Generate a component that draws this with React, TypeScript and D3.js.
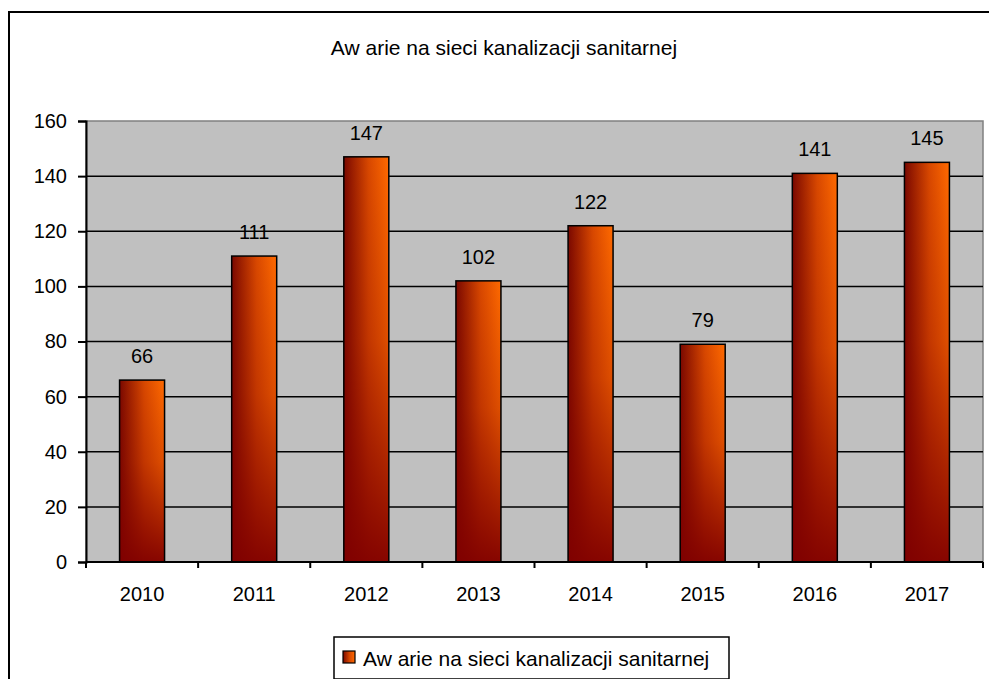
import { useEffect, useRef } from "react";
import * as d3 from "d3";

const years = ["2010", "2011", "2012", "2013", "2014", "2015", "2016", "2017"];
const failures = [66, 111, 147, 102, 122, 79, 141, 145];
const yTicks = [0, 20, 40, 60, 80, 100, 120, 140, 160];
const title = "Aw arie na sieci kanalizacji sanitarnej";
const legendLabel = "Aw arie na sieci kanalizacji sanitarnej";

export default function App() {
  const ref = useRef<SVGSVGElement>(null);

  useEffect(() => {
    document.body.style.margin = "0";
    if (!ref.current) return;
    const svg = d3.select(ref.current);
    svg.selectAll("*").remove();

    const width = 989;
    const height = 679;
    const left = 86;
    const right = 983;
    const top = 121;
    const bottom = 562;
    const font = "'Liberation Sans', Arial, sans-serif";

    const defs = svg.append("defs");
    const gh = defs.append("linearGradient").attr("id", "barH")
      .attr("x1", "0").attr("y1", "0").attr("x2", "1").attr("y2", "0");
    gh.append("stop").attr("offset", "0").attr("stop-color", "#7a0800");
    gh.append("stop").attr("offset", "0.55").attr("stop-color", "#d84800");
    gh.append("stop").attr("offset", "1").attr("stop-color", "#ff6a00");
    const gv = defs.append("linearGradient").attr("id", "barV")
      .attr("x1", "0").attr("y1", "0").attr("x2", "0").attr("y2", "1");
    gv.append("stop").attr("offset", "0").attr("stop-color", "#800000").attr("stop-opacity", 0);
    gv.append("stop").attr("offset", "0.45").attr("stop-color", "#800000").attr("stop-opacity", 0.25);
    gv.append("stop").attr("offset", "1").attr("stop-color", "#800000").attr("stop-opacity", 0.95);

    // outer frame
    svg.append("rect")
      .attr("x", 9).attr("y", 12).attr("width", width + 10).attr("height", height + 10)
      .attr("fill", "white").attr("stroke", "black").attr("stroke-width", 2);

    svg.append("text")
      .attr("x", 504).attr("y", 55)
      .attr("text-anchor", "middle")
      .attr("font-family", font).attr("font-size", 21)
      .text(title);

    const x = d3.scaleBand().domain(years).range([left, right]).paddingInner(0).paddingOuter(0);
    const y = d3.scaleLinear().domain([0, 160]).range([bottom, top]);
    const barW = 45;

    // plot area
    svg.append("rect")
      .attr("x", left).attr("y", top).attr("width", right - left).attr("height", bottom - top)
      .attr("fill", "#c0c0c0").attr("stroke", "#808080").attr("stroke-width", 1.5);

    // gridlines
    svg.append("g").selectAll("line")
      .data(yTicks.filter(t => t > 0 && t < 160))
      .join("line")
      .attr("x1", left).attr("x2", right)
      .attr("y1", d => y(d)).attr("y2", d => y(d))
      .attr("stroke", "black").attr("stroke-width", 1.5);

    // bars
    const bars = svg.append("g");
    const data = years.map((yr, i) => ({ yr, v: failures[i] }));
    bars.selectAll("rect.h")
      .data(data).join("rect").attr("class", "h")
      .attr("x", d => (x(d.yr) || 0) + x.bandwidth() / 2 - barW / 2)
      .attr("y", d => y(d.v))
      .attr("width", barW)
      .attr("height", d => y(0) - y(d.v))
      .attr("fill", "url(#barH)");
    bars.selectAll("rect.v")
      .data(data).join("rect").attr("class", "v")
      .attr("x", d => (x(d.yr) || 0) + x.bandwidth() / 2 - barW / 2)
      .attr("y", d => y(d.v))
      .attr("width", barW)
      .attr("height", d => y(0) - y(d.v))
      .attr("fill", "url(#barV)")
      .attr("stroke", "black").attr("stroke-width", 1.5);

    // value labels
    svg.append("g").selectAll("text")
      .data(data).join("text")
      .attr("x", d => (x(d.yr) || 0) + x.bandwidth() / 2)
      .attr("y", d => y(d.v) - 17)
      .attr("text-anchor", "middle")
      .attr("font-family", font).attr("font-size", 20)
      .text(d => d.v);

    // y axis
    const yAxis = svg.append("g")
      .attr("transform", `translate(${left},0)`)
      .call(d3.axisLeft(y).tickValues(yTicks).tickSize(8).tickPadding(11));
    yAxis.select(".domain").attr("stroke-width", 2);
    yAxis.selectAll("line").attr("stroke-width", 2);
    yAxis.selectAll("text").attr("font-family", font).attr("font-size", 20).attr("fill", "black");

    // x axis
    const xAxis = svg.append("g")
      .attr("transform", `translate(0,${bottom})`);
    xAxis.append("line")
      .attr("x1", left).attr("x2", right).attr("stroke", "black").attr("stroke-width", 2);
    xAxis.selectAll("line.tick")
      .data([...years.map(yr => x(yr) || 0), right])
      .join("line").attr("class", "tick")
      .attr("x1", d => d).attr("x2", d => d).attr("y1", 0).attr("y2", 6)
      .attr("stroke", "black").attr("stroke-width", 2);
    xAxis.selectAll("text")
      .data(years).join("text")
      .attr("x", d => (x(d) || 0) + x.bandwidth() / 2)
      .attr("y", 39)
      .attr("text-anchor", "middle")
      .attr("font-family", font).attr("font-size", 20)
      .text(d => d);

    // legend
    const lg = svg.append("g");
    lg.append("rect")
      .attr("x", 334).attr("y", 637).attr("width", 395).attr("height", 42)
      .attr("fill", "white").attr("stroke", "black").attr("stroke-width", 1.5);
    lg.append("rect")
      .attr("x", 343).attr("y", 651).attr("width", 12).attr("height", 12)
      .attr("fill", "url(#barH)").attr("stroke", "black").attr("stroke-width", 1.2);
    lg.append("text")
      .attr("x", 363).attr("y", 666)
      .attr("font-family", font).attr("font-size", 21)
      .text(legendLabel);
  }, []);

  return <svg ref={ref} width={989} height={679} style={{ display: "block" }} />;
}
